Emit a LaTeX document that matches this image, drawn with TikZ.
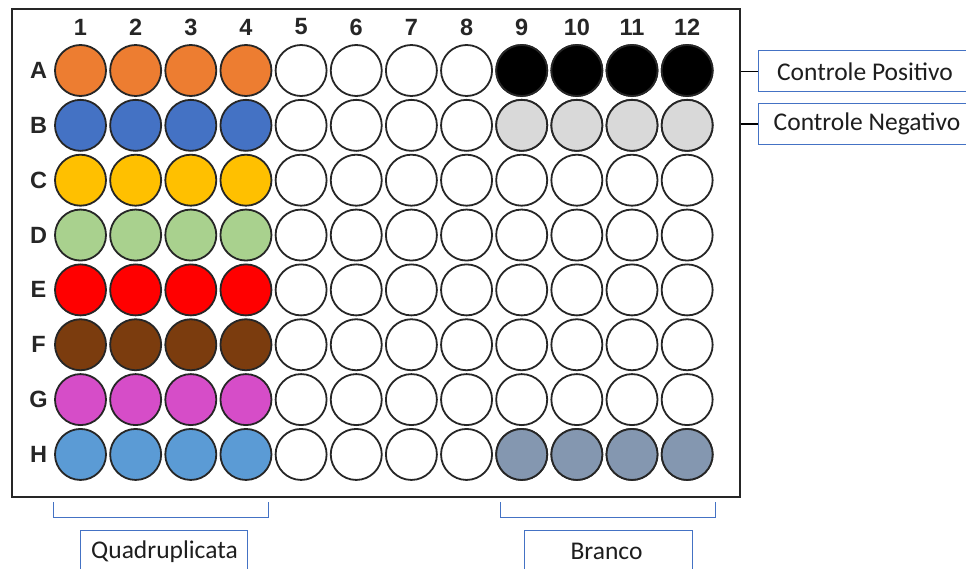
\documentclass[tikz,border=0pt]{standalone}
\usepackage{fontspec}
\setmainfont{Carlito}
\newfontfamily\arialb{Liberation Sans}[BoldFont={* Bold}]
\definecolor{cOrange}{HTML}{ED7D31}
\definecolor{cBlue}{HTML}{4472C4}
\definecolor{cGold}{HTML}{FFC000}
\definecolor{cGreen}{HTML}{A9D18E}
\definecolor{cRed}{HTML}{FF0000}
\definecolor{cBrown}{HTML}{7B3C0E}
\definecolor{cMagenta}{HTML}{D64DC8}
\definecolor{cSky}{HTML}{5B9BD5}
\definecolor{cGray}{HTML}{D9D9D9}
\definecolor{cSlate}{HTML}{8497B0}
\definecolor{cLine}{HTML}{4472C4}
\definecolor{cText}{HTML}{1E1E1E}
\begin{document}
\begin{tikzpicture}[x=1pt,y=-1pt,
  well/.style={circle,draw=black!85,line width=1.8pt,minimum size=51pt,inner sep=0pt},
  lab/.style={font=\arialb\bfseries\fontsize{23.5}{24}\selectfont,text=black!85,inner sep=0pt},
  tagbox/.style={draw=cLine,line width=0.9pt,inner sep=0pt,anchor=north west},
  tagtext/.style={text=cText,font=\fontsize{25.5}{28}\selectfont,inner sep=0pt},
  brk/.style={draw=cLine,line width=1pt}]
\clip (0,0) rectangle (966,569);
\fill[white] (0,0) rectangle (966,569);
% plate
\node[draw=black!85,line width=1.8pt,minimum width=728pt,minimum height=488pt,inner sep=0pt,anchor=north west] (plate) at (11,8) {};
% column labels
\foreach \c in {1,...,12}{
  \node[lab] (col\c) at ({80.5+(\c-1)*55.15},27) {\c};
}
% row labels
\foreach \L [count=\i from 0] in {A,B,C,D,E,F,G,H}{
  \node[lab] (row\L) at (38.5,{70.5+\i*54.85}) {\L};
}
% wells
\foreach \L/\col [count=\i from 0] in {A/cOrange,B/cBlue,C/cGold,D/cGreen,E/cRed,F/cBrown,G/cMagenta,H/cSky}{
  \foreach \c in {1,...,12}{
    \ifnum\c<5
      \node[well,fill=\col] (w\L\c) at ({80.5+(\c-1)*55.15},{70.5+\i*54.85}) {};
    \else
      \node[well,fill=white] (w\L\c) at ({80.5+(\c-1)*55.15},{70.5+\i*54.85}) {};
    \fi
  }
}
% controls and blanks
\foreach \c in {9,...,12}{
  \node[well,fill=black] (wA\c) at ({80.5+(\c-1)*55.15},70.5) {};
  \node[well,fill=cGray] (wB\c) at ({80.5+(\c-1)*55.15},125.35) {};
  \node[well,fill=cSlate] (wH\c) at ({80.5+(\c-1)*55.15},{70.5+7*54.85}) {};
}
% right labels
\node[tagbox,minimum width=212pt,minimum height=41pt] (pos) at (758,50.5) {};
\node[tagtext] (post) at (865,71.5) {Controle Positivo};
\node[tagbox,minimum width=212pt,minimum height=41pt] (neg) at (758,103) {};
\node[tagtext] (negt) at (867,124) {Controle Negativo};
\draw[black,line width=1.6pt] (plate.east |- pos.west) -- (pos.west);
\draw[black,line width=1.6pt] (plate.east |- neg.west) -- (neg.west);
% bottom brackets
\coordinate (q1) at (53,502);
\coordinate (q2) at (268,502);
\draw[brk] (q1) -- ++(0,15) -| (q2);
\coordinate (b1) at (500,502);
\coordinate (b2) at (715,502);
\draw[brk] (b1) -- ++(0,15) -| (b2);
\node[tagbox,minimum width=167pt,minimum height=45pt] (quad) at (80,530) {};
\node[tagtext] (quadt) at (164.5,551.5) {Quadruplicata};
\node[tagbox,minimum width=168pt,minimum height=45pt] (bran) at (524,530) {};
\node[tagtext] (brant) at (606.5,551.5) {Branco};
\end{tikzpicture}
\end{document}
